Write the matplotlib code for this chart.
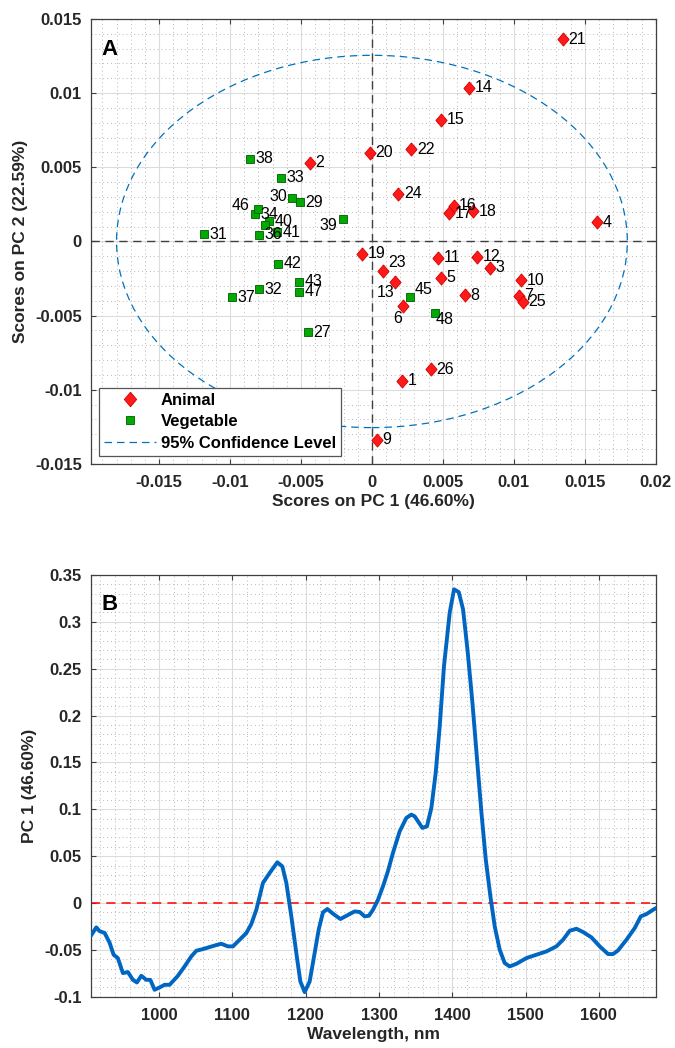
import numpy as np
import matplotlib
matplotlib.use('Agg')
import matplotlib.pyplot as plt
from matplotlib.patches import Ellipse
from matplotlib.lines import Line2D
from matplotlib.ticker import MultipleLocator

plt.rcParams['font.family'] = ['Liberation Sans', 'DejaVu Sans']
plt.rcParams['axes.unicode_minus'] = False

# --- scores, animal fats (samples 1-26)
animal_ids = [str(i) for i in range(1, 27)]
animal_pc1 = [0.00211, -0.00439, 0.00833, 0.01584, 0.00486, 0.00222, 0.01037, 0.00657,
              0.00035, 0.01051, 0.00465, 0.00739, 0.00166, 0.00685, 0.00488, 0.00575,
              0.00542, 0.00715, -0.00068, -0.00014, 0.01345, 0.00277, 0.00075, 0.00187,
              0.01065, 0.00413]
animal_pc2 = [-0.00939, 0.00530, -0.00177, 0.00130, -0.00245, -0.00438, -0.00366, -0.00364,
              -0.01337, -0.00263, -0.00110, -0.00103, -0.00274, 0.01036, 0.00820, 0.00241,
              0.00191, 0.00202, -0.00083, 0.00598, 0.01364, 0.00620, -0.00198, 0.00321,
              -0.00406, -0.00861]

# --- scores, vegetable oils
veg_ids = ['27', '29', '30', '31', '32', '33', '34', '36', '37', '38', '39', '40',
           '41', '42', '43', '45', '46', '47', '48', '']
veg_pc1 = [-0.00451, -0.00510, -0.00563, -0.01181, -0.00798, -0.00643, -0.00826, -0.00796,
           -0.00988, -0.00862, -0.00204, -0.00728, -0.00670, -0.00660, -0.00514, 0.00270,
           -0.00803, -0.00514, 0.00443, -0.00751]
veg_pc2 = [-0.00613, 0.00263, 0.00290, 0.00049, -0.00321, 0.00431, 0.00182, 0.00045,
           -0.00375, 0.00559, 0.00150, 0.00137, 0.00061, -0.00150, -0.00270, -0.00373,
           0.00218, -0.00339, -0.00485, 0.00108]

# 95% confidence ellipse semi-axes
conf_a = 0.0180
conf_b = 0.01255

# --- PC1 loadings
wavelength = [908, 914.6, 919, 926, 932.9, 938.2, 944, 950.9, 957.7, 964.5, 970, 976,
              982.8, 988.3, 994.1, 1001, 1007.8, 1014.6, 1025.9, 1035, 1044.2, 1051,
              1060, 1069.2, 1078.3, 1085.1, 1094.1, 1101, 1107.8, 1119.2, 1126, 1132.9,
              1141.9, 1151, 1161.5, 1168.3, 1173.8, 1180.6, 1187.4, 1192.9, 1198.8,
              1205.6, 1212.4, 1217.9, 1223.7, 1229.7, 1237.4, 1247.5, 1257.8, 1267,
              1273.8, 1280.6, 1286.5, 1292, 1298.8, 1305.6, 1312, 1319.2, 1328.4,
              1337.5, 1344.3, 1348.8, 1359.3, 1365.6, 1371.6, 1377.5, 1383, 1388.8,
              1396.6, 1402.5, 1408.9, 1414.8, 1420.8, 1427.6, 1433.9, 1439.9, 1445.8,
              1452.1, 1458, 1464.8, 1471.6, 1478.4, 1487.6, 1501.2, 1514.9, 1528.5,
              1542.1, 1551.2, 1560.3, 1569.4, 1578.5, 1589.9, 1601.2, 1612.6, 1619.4,
              1626.2, 1637.7, 1649, 1657.2, 1665, 1674, 1678]
loading = [-0.034, -0.026, -0.030, -0.032, -0.0427, -0.0552, -0.0588, -0.0748, -0.0737,
           -0.082, -0.0848, -0.0777, -0.082, -0.082, -0.0926, -0.0901, -0.0873, -0.0873,
           -0.0777, -0.0677, -0.0570, -0.0510, -0.0492, -0.0470, -0.0449, -0.0435,
           -0.0463, -0.0463, -0.0410, -0.0321, -0.0225, -0.0072, 0.0214, 0.0320, 0.0434,
           0.0391, 0.0214, -0.0143, -0.0534, -0.0838, -0.0951, -0.0838, -0.0534, -0.0285,
           -0.0100, -0.0064, -0.0114, -0.0171, -0.0128, -0.0090, -0.0096, -0.0143,
           -0.0136, -0.0072, 0.0035, 0.0178, 0.0330, 0.0534, 0.0765, 0.0908, 0.0943,
           0.0925, 0.0801, 0.0818, 0.1015, 0.1389, 0.1887, 0.2528, 0.3098, 0.3347,
           0.3318, 0.3134, 0.2706, 0.2137, 0.1531, 0.0962, 0.0463, 0.0071, -0.0250,
           -0.0499, -0.0641, -0.0677, -0.0649, -0.0588, -0.0552, -0.0517, -0.0463,
           -0.0392, -0.0296, -0.0275, -0.0310, -0.0367, -0.0463, -0.0545, -0.0545,
           -0.0506, -0.0392, -0.0267, -0.0143, -0.0118, -0.0072, -0.0055]

# tick labels
a_xticks = [-0.015, -0.01, -0.005, 0, 0.005, 0.01, 0.015, 0.02]
a_xlabels = ['-0.015', '-0.01', '-0.005', '0', '0.005', '0.01', '0.015', '0.02']
a_yticks = [-0.015, -0.01, -0.005, 0, 0.005, 0.01, 0.015]
a_ylabels = ['-0.015', '-0.01', '-0.005', '0', '0.005', '0.01', '0.015']
b_xticks = [1000, 1100, 1200, 1300, 1400, 1500, 1600]
b_yticks = [-0.1, -0.05, 0, 0.05, 0.1, 0.15, 0.2, 0.25, 0.3, 0.35]
b_ylabels = ['-0.1', '-0.05', '0', '0.05', '0.1', '0.15', '0.2', '0.25', '0.3', '0.35']

TXT = '#262626'

# label nudges (points) for crowded samples: (dx, dy, ha)
nudge = {'23': (3.9, 6.2, 'left'), '13': (-0.7, -7.2, 'right'), '6': (-1.2, -8.9, 'right'),
         '45': (2.9, 5.3, 'left'), '48': (0.7, -4.5, 'left'), '39': (-3.9, -4.5, 'right'),
         '30': (-3.2, 1.7, 'right'), '46': (-6.0, 2.7, 'right')}


def style_axes(ax):
    for s in ax.spines.values():
        s.set_color('#404040')
        s.set_linewidth(0.9)
    ax.tick_params(which='major', direction='in', length=3.5, width=0.8, color='#404040',
                   top=True, right=True, labelsize=12, labelcolor=TXT)
    ax.tick_params(axis='x', pad=8)
    ax.tick_params(axis='y', pad=6.5)
    ax.tick_params(which='minor', length=0, top=True, right=True)
    ax.grid(which='major', color='#dcdcdc', lw=0.8, ls='-')
    ax.grid(which='minor', color='#b8b8b8', lw=0.7, ls=(0, (1, 3)))
    ax.set_axisbelow(True)
    for lab in ax.get_xticklabels() + ax.get_yticklabels():
        lab.set_fontweight('bold')


fig = plt.figure(figsize=(6.75, 10.48), dpi=100)

# ---------------- A: score plot
ax1 = fig.add_axes([0.1348, 0.5573, 0.8366, 0.4246])
ax1.add_patch(Ellipse((0, 0), 2 * conf_a, 2 * conf_b, fill=False, ec='#0072BD',
                      lw=0.9, ls=(0, (6, 4)), zorder=2))
ax1.axhline(0, color='#404040', lw=1, ls=(0, (6, 4)), zorder=2)
ax1.axvline(0, color='#404040', lw=1, ls=(0, (6, 4)), zorder=2)

diamond = [(0, 1), (0.85, 0), (0, -1), (-0.85, 0), (0, 1)]
ax1.plot(animal_pc1, animal_pc2, ls='none', marker=diamond, ms=9.5, mfc='#ff1a1a',
         mec='#d40000', mew=0.6, zorder=4)
ax1.plot(veg_pc1, veg_pc2, ls='none', marker='s', ms=5.8, mfc='#00aa00',
         mec='#005a00', mew=0.6, zorder=4)

for ids, xs, ys in [(animal_ids, animal_pc1, animal_pc2), (veg_ids, veg_pc1, veg_pc2)]:
    for t, x, y in zip(ids, xs, ys):
        if not t:
            continue
        dx, dy, ha = nudge.get(t, (4.0, 0.0, 'left'))
        ax1.annotate(t, (x, y), xytext=(dx, dy), textcoords='offset points',
                     ha=ha, va='center', fontsize=11.5, color='black', zorder=5)

ax1.set_xlim(-0.0198, 0.02)
ax1.set_ylim(-0.015, 0.015)
ax1.set_xticks(a_xticks, a_xlabels)
ax1.set_yticks(a_yticks, a_ylabels)
ax1.xaxis.set_minor_locator(MultipleLocator(0.001))
ax1.yaxis.set_minor_locator(MultipleLocator(0.001))
style_axes(ax1)
ax1.set_xlabel('Scores on PC 1 (46.60%)', fontsize=12.5, fontweight='bold', color=TXT, labelpad=3)
ax1.set_ylabel('Scores on PC 2 (22.59%)', fontsize=12.5, fontweight='bold', color=TXT, labelpad=5)
ax1.text(0.019, 0.919, 'A', transform=ax1.transAxes, fontsize=16, fontweight='bold',
         va='baseline', color='black')

handles = [
    Line2D([], [], ls='none', marker=diamond, ms=10.5, mfc='#ff1a1a', mec='#d40000', mew=0.6),
    Line2D([], [], ls='none', marker='s', ms=6.3, mfc='#00aa00', mec='#005a00', mew=0.6),
    Line2D([], [], color='#0072BD', lw=0.9, ls=(0, (6, 4))),
]
leg = ax1.legend(handles, ['Animal', 'Vegetable', '95% Confidence Level'], loc='lower left',
                 prop={'weight': 'bold', 'size': 12}, fancybox=False, framealpha=1,
                 edgecolor='#555555', handlelength=3.1, handletextpad=0.3,
                 borderpad=0.3, labelspacing=0.38, borderaxespad=0.5, numpoints=1)
leg.get_frame().set_linewidth(0.9)
for t in leg.get_texts():
    t.set_color('black')

# ---------------- B: loadings
ax2 = fig.add_axes([0.1344, 0.04895, 0.8375, 0.4024])
ax2.axhline(0, color='#ff0000', lw=1.1, ls=(0, (6, 4)), zorder=2)
ax2.plot(wavelength, loading, color='#0066c2', lw=2.8, zorder=3, solid_joinstyle='round')
ax2.set_xlim(907, 1678)
ax2.set_ylim(-0.1, 0.35)
ax2.set_xticks(b_xticks)
ax2.set_yticks(b_yticks, b_ylabels)
ax2.xaxis.set_minor_locator(MultipleLocator(20))
ax2.yaxis.set_minor_locator(MultipleLocator(0.01))
style_axes(ax2)
ax2.set_xlabel('Wavelength, nm', fontsize=12.5, fontweight='bold', color=TXT, labelpad=3)
ax2.set_ylabel('PC 1 (46.60%)', fontsize=12.5, fontweight='bold', color=TXT, labelpad=5)
ax2.text(0.019, 0.917, 'B', transform=ax2.transAxes, fontsize=16, fontweight='bold',
         va='baseline', color='black')

fig.savefig('out.png', dpi=100)
